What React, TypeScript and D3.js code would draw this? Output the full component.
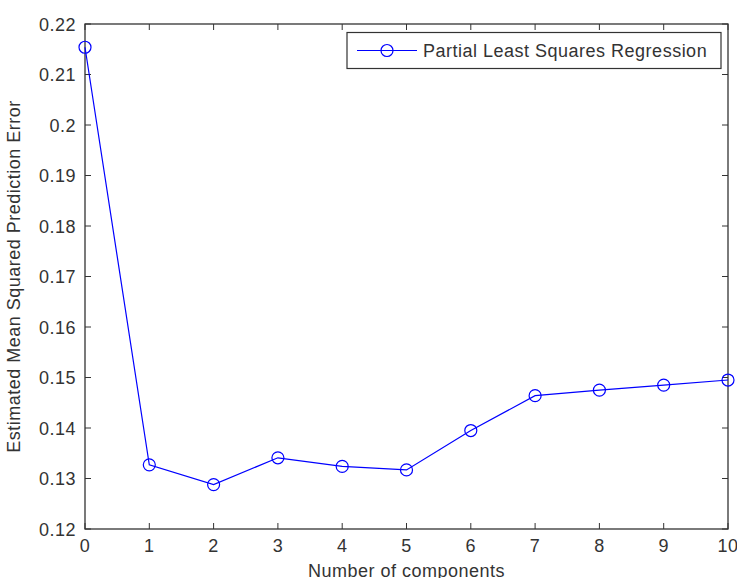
import React from "react";
import * as d3 from "d3";

const components = [0, 1, 2, 3, 4, 5, 6, 7, 8, 9, 10];
const msep = [0.2154, 0.1327, 0.1288, 0.1341, 0.1324, 0.1317, 0.1395, 0.1464, 0.1475, 0.1485, 0.1495];
const xTicks = [0, 1, 2, 3, 4, 5, 6, 7, 8, 9, 10];
const yTicks = [0.12, 0.13, 0.14, 0.15, 0.16, 0.17, 0.18, 0.19, 0.2, 0.21, 0.22];
const yTickLabels = ["0.12", "0.13", "0.14", "0.15", "0.16", "0.17", "0.18", "0.19", "0.2", "0.21", "0.22"];
const seriesName = "Partial Least Squares Regression";
const xLabel = "Number of components";
const yLabel = "Estimated Mean Squared Prediction Error";

const W = 737;
const H = 578;
const L = 85, R = 728, T = 24, B = 529;
const axisColor = "#333";
const blue = "#0000ff";
const font = "'Liberation Sans', Arial, Helvetica, sans-serif";
const fs = 18;
const ls = 0.5;
const tick = 6;

export default function App() {
  const x = d3.scaleLinear().domain([0, 10]).range([L, R]);
  const y = d3.scaleLinear().domain([0.12, 0.22]).range([B, T]);
  const line = d3
    .line<number>()
    .x((_, i) => x(components[i]))
    .y((d) => y(d));

  return (
    <svg
      width={W}
      height={H}
      style={{ position: "absolute", left: 0, top: 0, background: "#fff" }}
      fontFamily={font}
    >
      <rect x={0} y={0} width={W} height={H} fill="#fff" />
      {/* ticks */}
      {xTicks.map((t) => (
        <g key={"xt" + t}>
          <line x1={x(t)} x2={x(t)} y1={B} y2={B - tick} stroke={axisColor} strokeWidth={1} />
          <line x1={x(t)} x2={x(t)} y1={T} y2={T + tick} stroke={axisColor} strokeWidth={1} />
          <text
            x={x(t)}
            y={552}
            textAnchor="middle"
            fontSize={fs}
            letterSpacing={ls}
            fill={axisColor}
          >
            {String(t)}
          </text>
        </g>
      ))}
      {yTicks.map((t, i) => (
        <g key={"yt" + t}>
          <line x1={L} x2={L + tick} y1={y(t)} y2={y(t)} stroke={axisColor} strokeWidth={1} />
          <line x1={R} x2={R - tick} y1={y(t)} y2={y(t)} stroke={axisColor} strokeWidth={1} />
          <text
            x={76}
            y={y(t) + 6.5}
            textAnchor="end"
            fontSize={fs}
            letterSpacing={ls}
            fill={axisColor}
          >
            {yTickLabels[i]}
          </text>
        </g>
      ))}
      {/* frame */}
      <rect x={L} y={T} width={R - L} height={B - T} fill="none" stroke={axisColor} strokeWidth={1.3} />
      {/* series */}
      <path d={line(msep) || ""} fill="none" stroke={blue} strokeWidth={1.2} />
      {msep.map((v, i) => (
        <circle key={"m" + i} cx={x(components[i])} cy={y(v)} r={6} fill="none" stroke={blue} strokeWidth={1.2} />
      ))}
      {/* legend */}
      <rect x={347} y={32.5} width={374} height={36} fill="#fff" stroke={axisColor} strokeWidth={1.2} />
      <line x1={357} x2={417} y1={50.5} y2={50.5} stroke={blue} strokeWidth={1.2} />
      <circle cx={387} cy={50.5} r={6} fill="none" stroke={blue} strokeWidth={1.2} />
      <text x={423} y={57} fontSize={fs} letterSpacing={ls} fill={axisColor}>
        {seriesName}
      </text>
      {/* axis labels */}
      <text
        x={(L + R) / 2}
        y={577}
        textAnchor="middle"
        fontSize={fs}
        letterSpacing={ls}
        fill={axisColor}
      >
        {xLabel}
      </text>
      <text
        transform={`translate(20, ${(T + B) / 2}) rotate(-90)`}
        textAnchor="middle"
        fontSize={fs}
        letterSpacing={ls}
        fill={axisColor}
      >
        {yLabel}
      </text>
    </svg>
  );
}
